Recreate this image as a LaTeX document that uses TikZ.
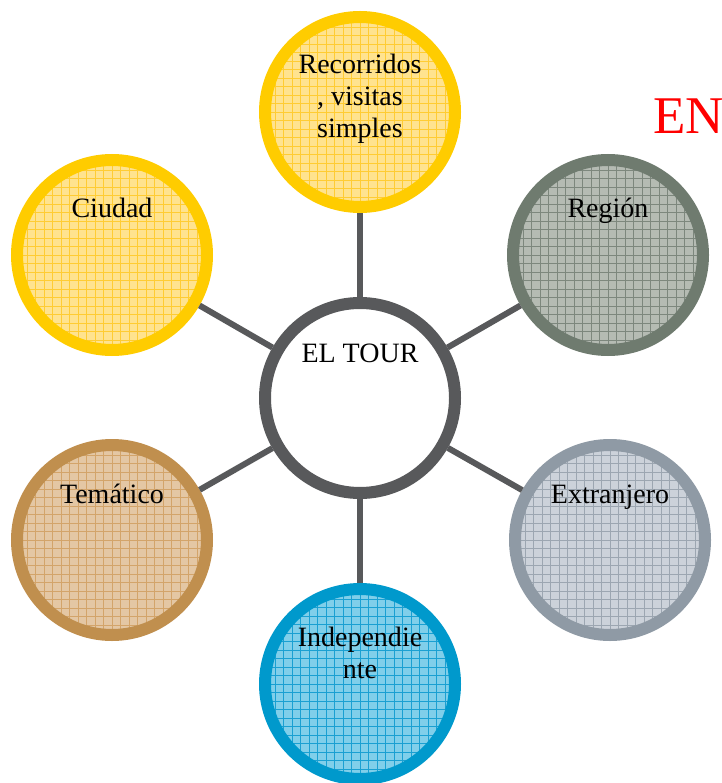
\documentclass[tikz,border=0pt]{standalone}
\usepackage{fontspec}
\setmainfont{Liberation Serif}
\definecolor{ylwB}{HTML}{FFCC00}
\definecolor{ylwF}{HTML}{FFE38F}
\definecolor{ylwG}{HTML}{FFCC33}
\definecolor{regB}{HTML}{6F7B6F}
\definecolor{regF}{HTML}{B5BBB3}
\definecolor{regG}{HTML}{7D877D}
\definecolor{extB}{HTML}{8F9AA5}
\definecolor{extF}{HTML}{CCD2DA}
\definecolor{extG}{HTML}{9CA6B1}
\definecolor{temB}{HTML}{C08F4E}
\definecolor{temF}{HTML}{E4C7A4}
\definecolor{temG}{HTML}{D3A46A}
\definecolor{indB}{HTML}{0099CC}
\definecolor{indF}{HTML}{80CFEA}
\definecolor{indG}{HTML}{1AA0D2}
\definecolor{hubB}{HTML}{58595B}
\tikzset{
  bubble/.style n args={3}{circle, minimum size=190pt, inner sep=0pt, line width=12pt,
    draw=#1, fill=#2,
    path picture={\draw[#3, line width=0.8pt, step=8.5pt]
      (path picture bounding box.south west) grid (path picture bounding box.north east);}},
  hubstyle/.style={circle, minimum size=190pt, inner sep=0pt, line width=12pt, draw=hubB, fill=white},
  txt/.style={anchor=base, inner sep=0pt, font=\fontsize{28}{32}\selectfont},
  conn/.style={draw=hubB, line width=6pt}
}
\newcommand\tline[1]{\parbox[t]{220pt}{\centering #1}}
\begin{document}
\begin{tikzpicture}[x=1pt,y=-1pt]
\useasboundingbox (0,0) rectangle (721,783);
\node[hubstyle] (hub) at (360,398) {};
\node[bubble={ylwB}{ylwF}{ylwG}] (rec) at (360,112) {};
\node[bubble={ylwB}{ylwF}{ylwG}] (ciu) at (112,255) {};
\node[bubble={regB}{regF}{regG}] (reg) at (608,255) {};
\node[bubble={temB}{temF}{temG}] (tem) at (112,540) {};
\node[bubble={extB}{extF}{extG}] (ext) at (610,540) {};
\node[bubble={indB}{indF}{indG}] (ind) at (360,684) {};
\draw[conn] (hub) -- (rec);
\draw[conn] (hub) -- (ciu);
\draw[conn] (hub) -- (reg);
\draw[conn] (hub) -- (tem);
\draw[conn] (hub) -- (ext);
\draw[conn] (hub) -- (ind);
\node[txt] (hubT) at ([yshift=36pt]hub.center) {\tline{EL TOUR}};
\node[txt] (recT) at ([yshift=38pt]rec.center) {\tline{Recorridos\\, visitas\\simples}};
\node[txt] (ciuT) at ([yshift=37pt]ciu.center) {\tline{Ciudad}};
\node[txt] (regT) at ([yshift=37pt]reg.center) {\tline{Región}};
\node[txt] (temT) at ([yshift=37pt]tem.center) {\tline{Temático}};
\node[txt] (extT) at ([yshift=37pt]ext.center) {\tline{Extranjero}};
\node[txt] (indT) at ([yshift=38pt]ind.center) {\tline{Independie\\nte}};
\node[text=red, anchor=base west, inner sep=0pt, font=\fontsize{53}{60}\selectfont] (en) at (653,134) {EN};
\end{tikzpicture}
\end{document}
